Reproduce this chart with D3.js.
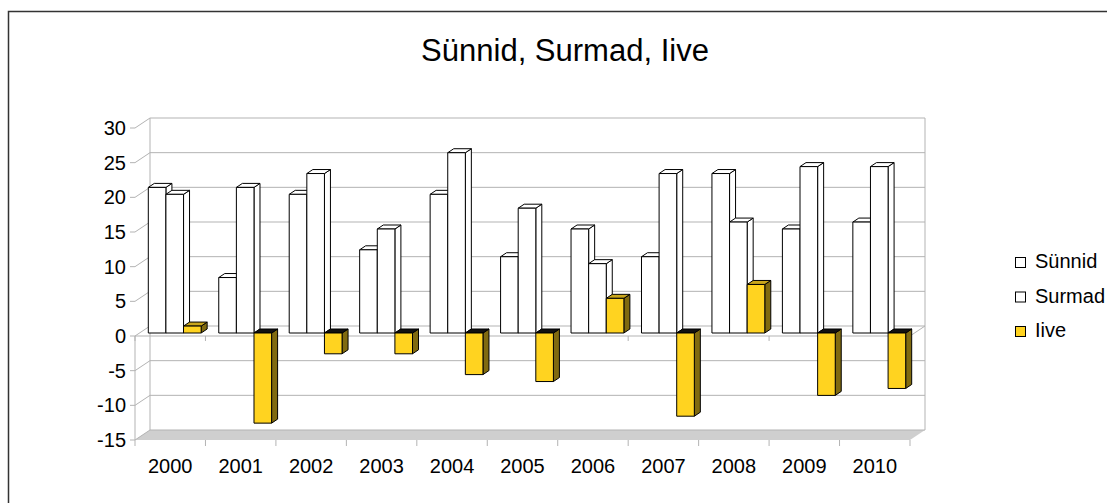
<!DOCTYPE html>
<html>
<head>
<meta charset="utf-8">
<script src="https://cdn.jsdelivr.net/npm/d3@7"></script>
<style>
  body { margin: 0; background: #fff; }
  text { font-family: "Liberation Sans", Arial, sans-serif; fill: #000; }
</style>
</head>
<body>
<div id="chart-area"></div>
<script>
var years = ["2000", "2001", "2002", "2003", "2004", "2005", "2006", "2007", "2008", "2009", "2010"];
var synnid = [21, 8, 20, 12, 20, 11, 15, 11, 23, 15, 16];
var surmad = [20, 21, 23, 15, 26, 18, 10, 23, 16, 24, 24];
var iive = [1, -13, -3, -3, -6, -7, 5, -12, 7, -9, -8];
var seriesNames = ["Sünnid", "Surmad", "Iive"];
var yTicks = [-15, -10, -5, 0, 5, 10, 15, 20, 25, 30];

var svg = d3.select("#chart-area").append("svg")
    .attr("width", 1107)
    .attr("height", 503);

// outer frame (runs past the right and bottom edge)
svg.append("rect")
    .attr("x", 8.5).attr("y", 11.5)
    .attr("width", 1113).attr("height", 600)
    .attr("fill", "none").attr("stroke", "#333").attr("stroke-width", 1.5);

svg.append("text")
    .attr("x", 565).attr("y", 61)
    .attr("text-anchor", "middle")
    .style("font-size", "31px")
    .text("Sünnid, Surmad, Iive");

var x = d3.scaleBand().domain(years).range([135, 910]);
var s = d3.scaleBand().domain(seriesNames).range([0, x.bandwidth()]).paddingOuter(0.5);
var y = d3.scaleLinear().domain([-15, 30]).range([440, 128]);

// depth of the chart box
var dX = 15, dY = -10;
function P(px, py, t) { return [px + dX * t, py + dY * t]; }

var grid = "#b3b3b3";
var g = svg.append("g");

// floor
g.append("polygon")
    .attr("points", [P(135, y(-15), 0), P(910, y(-15), 0), P(910, y(-15), 1), P(135, y(-15), 1)].join(" "))
    .attr("fill", "#cfcfcf");

// back wall gridlines + side wall diagonals + ticks
yTicks.forEach(function(v) {
    var yy = y(v);
    g.append("line")
        .attr("x1", P(135, yy, 1)[0]).attr("y1", P(135, yy, 1)[1])
        .attr("x2", P(910, yy, 1)[0]).attr("y2", P(910, yy, 1)[1])
        .attr("stroke", grid);
    g.append("line")
        .attr("x1", 135).attr("y1", yy)
        .attr("x2", P(135, yy, 1)[0]).attr("y2", P(135, yy, 1)[1])
        .attr("stroke", grid);
    g.append("line")
        .attr("x1", 130).attr("y1", yy)
        .attr("x2", 135).attr("y2", yy)
        .attr("stroke", grid);
    g.append("text")
        .attr("x", 126).attr("y", yy)
        .attr("text-anchor", "end")
        .attr("dominant-baseline", "central")
        .style("font-size", "20px")
        .text(v);
});

// wall edges
[135, 910].forEach(function(px) {
    g.append("line")
        .attr("x1", P(px, y(30), 1)[0]).attr("y1", P(px, y(30), 1)[1])
        .attr("x2", P(px, y(-15), 1)[0]).attr("y2", P(px, y(-15), 1)[1])
        .attr("stroke", grid);
});
g.append("line")
    .attr("x1", 135).attr("y1", y(0)).attr("x2", 135).attr("y2", y(-15))
    .attr("stroke", grid);

// category axis at zero and under the floor
g.append("line")
    .attr("x1", 135).attr("y1", y(0)).attr("x2", 910).attr("y2", y(0))
    .attr("stroke", grid);
g.append("line")
    .attr("x1", 910).attr("y1", y(0))
    .attr("x2", P(910, y(0), 1)[0]).attr("y2", P(910, y(0), 1)[1])
    .attr("stroke", grid);
var edges = years.map(function(d) { return x(d); }).concat([910]);
edges.forEach(function(px) {
    g.append("line")
        .attr("x1", px).attr("y1", y(0)).attr("x2", px).attr("y2", y(0) + 5)
        .attr("stroke", grid);
    g.append("line")
        .attr("x1", px).attr("y1", y(-15)).attr("x2", px).attr("y2", y(-15) + 6)
        .attr("stroke", grid);
});
years.forEach(function(d) {
    g.append("text")
        .attr("x", x(d) + x.bandwidth() / 2).attr("y", 473)
        .attr("text-anchor", "middle")
        .style("font-size", "20px")
        .text(d);
});

// bars
var t0 = 0.3, t1 = 0.7;
var values = [synnid, surmad, iive];
years.forEach(function(yr, i) {
    seriesNames.forEach(function(name, k) {
        var v = values[k][i];
        var xl = x(yr) + s(name), xr = xl + s.bandwidth();
        var top = y(Math.max(v, 0)), bot = y(Math.min(v, 0));
        var yellow = k == 2;
        var front = yellow ? "#ffd320" : "#fff";
        var side = yellow ? "#806a10" : "#fff";
        var lid = yellow ? (v >= 0 ? "#c9a61c" : "#111") : "#fff";

        g.append("polygon")
            .attr("points", [P(xr, top, t0), P(xr, top, t1), P(xr, bot, t1), P(xr, bot, t0)].join(" "))
            .attr("fill", side).attr("stroke", "#000").attr("stroke-linejoin", "round");
        g.append("polygon")
            .attr("points", [P(xl, top, t0), P(xr, top, t0), P(xr, top, t1), P(xl, top, t1)].join(" "))
            .attr("fill", lid).attr("stroke", "#000").attr("stroke-linejoin", "round");
        g.append("polygon")
            .attr("points", [P(xl, top, t0), P(xr, top, t0), P(xr, bot, t0), P(xl, bot, t0)].join(" "))
            .attr("fill", front).attr("stroke", "#000").attr("stroke-linejoin", "round");
    });
});

// legend
var legendColors = ["#fff", "#fff", "#ffd320"];
seriesNames.forEach(function(name, k) {
    var ly = 268 + k * 34.5;
    svg.append("rect")
        .attr("x", 1015.5).attr("y", ly - 10.5)
        .attr("width", 10).attr("height", 10)
        .attr("fill", legendColors[k]).attr("stroke", "#000");
    svg.append("text")
        .attr("x", 1035).attr("y", ly)
        .style("font-size", "20px")
        .text(name);
});
</script>
</body>
</html>
